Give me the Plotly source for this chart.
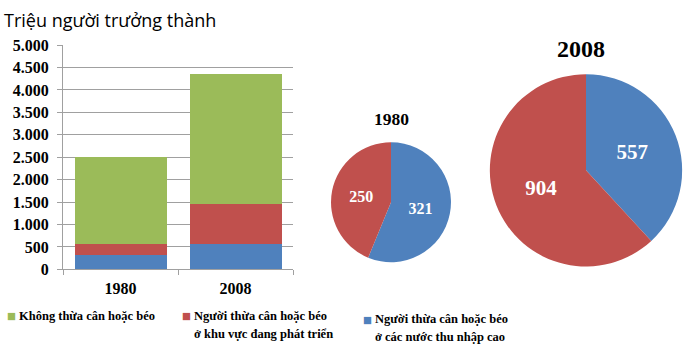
import plotly.graph_objects as go

years = ["1980", "2008"]
not_overweight = [1929, 2900]
overweight_developing = [250, 904]
overweight_high_income = [321, 557]

series_names = [
    "Không thừa cân hoặc béo",
    "Người thừa cân hoặc béo<br>ở khu vực đang phát triển",
    "Người thừa cân hoặc béo<br>ở các nước thu nhập cao",
]
pie_labels = ["Người thừa cân hoặc béo ở các nước thu nhập cao",
              "Người thừa cân hoặc béo ở khu vực đang phát triển"]
y_tickvals = [0, 500, 1000, 1500, 2000, 2500, 3000, 3500, 4000, 4500, 5000]
y_ticktext = ["0", "500", "1.000", "1.500", "2.000", "2.500", "3.000", "3.500", "4.000", "4.500", "5.000"]

GREEN = "#9BBB59"
RED = "#C0504D"
BLUE = "#4F81BD"
SERIF = "Liberation Serif, Times New Roman, serif"

W, H = 700, 355

def px(x):
    return x / W

def py(y):
    return 1 - y / H

fig = go.Figure()

fig.add_trace(go.Bar(x=years, y=overweight_high_income, marker_color=BLUE, showlegend=False,
                     marker_line_width=0, name=pie_labels[0]))
fig.add_trace(go.Bar(x=years, y=overweight_developing, marker_color=RED, showlegend=False,
                     marker_line_width=0, name=pie_labels[1]))
fig.add_trace(go.Bar(x=years, y=not_overweight, marker_color=GREEN, showlegend=False,
                     marker_line_width=0, name=series_names[0]))

# Pie 1980
fig.add_trace(go.Pie(
    values=[overweight_high_income[0], overweight_developing[0]],
    labels=pie_labels,
    marker=dict(colors=[BLUE, RED], line=dict(color="white", width=0)),
    sort=False, direction="clockwise", rotation=0,
    textinfo="value", textposition="inside",
    insidetextfont=dict(color="white", size=16, family=SERIF, weight="bold"),
    domain=dict(x=[px(328), px(454)], y=[py(267), py(141)]),
    showlegend=False, hoverinfo="label+value",
))
# Pie 2008
fig.add_trace(go.Pie(
    values=[overweight_high_income[1], overweight_developing[1]],
    labels=pie_labels,
    marker=dict(colors=[BLUE, RED], line=dict(color="white", width=0)),
    sort=False, direction="clockwise", rotation=0,
    textinfo="value", textposition="inside",
    insidetextfont=dict(color="white", size=21, family=SERIF, weight="bold"),
    domain=dict(x=[px(485), px(687)], y=[py(271.5), py(69.5)]),
    showlegend=False, hoverinfo="label+value",
))

fig.update_layout(
    width=W, height=H,
    margin=dict(l=0, r=0, t=0, b=0),
    paper_bgcolor="white", plot_bgcolor="white",
    barmode="stack", bargap=0.2,
    xaxis=dict(domain=[px(63), px(293)], type="category",
               showline=True, linecolor="#A0A0A0", linewidth=1,
               ticks="outside", tickson="boundaries", ticklen=5, tickcolor="#A0A0A0",
               ticklabelstandoff=4,
               tickfont=dict(family=SERIF, size=16, color="black", weight="bold"),
               showgrid=False),
    yaxis=dict(domain=[py(274.5), py(39)], range=[0, 5000],
               tickvals=y_tickvals, ticktext=y_ticktext,
               showline=True, linecolor="#A0A0A0", linewidth=1,
               ticks="outside", ticklen=5, tickcolor="#A0A0A0",
               ticklabelstandoff=5,
               showgrid=True, gridcolor="#A0A0A0", gridwidth=1,
               zeroline=False,
               tickfont=dict(family=SERIF, size=16, color="black", weight="bold")),
    showlegend=False,
)

annos = []
annos.append(dict(x=px(2), y=py(13), xref="paper", yref="paper", xanchor="left", yanchor="middle",
                  text="Triệu người trưởng thành", showarrow=False,
                  font=dict(family="Open Sans, Noto Sans, sans-serif", size=18, color="black")))
annos.append(dict(x=px(391), y=py(117), xref="paper", yref="paper", xanchor="center", yanchor="middle",
                  text="1980", showarrow=False,
                  font=dict(family=SERIF, size=17.5, color="black", weight="bold")))
annos.append(dict(x=px(581), y=py(43), xref="paper", yref="paper", xanchor="center", yanchor="middle",
                  text="2008", showarrow=False,
                  font=dict(family=SERIF, size=24, color="black", weight="bold")))

legend_items = [
    (GREEN, series_names[0], 11.5, 17, 323),
    (RED, series_names[1], 186.5, 192, 323),
    (BLUE, series_names[2], 367.5, 373, 327),
]
for color, name, sq_x, tx, ty in legend_items:
    annos.append(dict(x=px(sq_x), y=py(ty), xref="paper", yref="paper", xanchor="center", yanchor="middle",
                      text="■", showarrow=False,
                      font=dict(family="DejaVu Sans", size=9.5, color=color)))
    for i, line in enumerate(name.split("<br>")):
        annos.append(dict(x=px(tx), y=py(ty + 19 * i), xref="paper", yref="paper",
                          xanchor="left", yanchor="middle",
                          text=line, showarrow=False, align="left",
                          font=dict(family=SERIF, size=12.5, color="black", weight="bold")))

fig.update_layout(annotations=annos)

fig.write_html("out.html", config={"responsive": False, "displayModeBar": False},
               post_script="document.body.style.margin='0';document.body.style.padding='0';")
